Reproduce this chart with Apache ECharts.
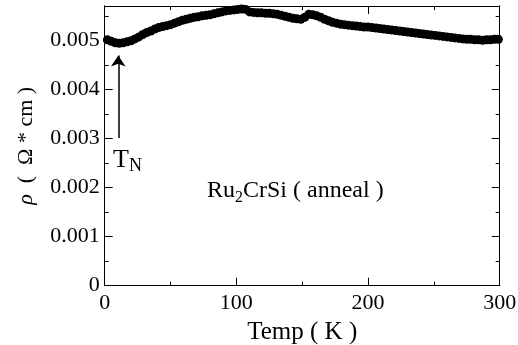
<!DOCTYPE html>
<html><head><meta charset="utf-8">
<script src="https://cdn.jsdelivr.net/npm/echarts@6/dist/echarts.min.js"></script>
<style>html,body{margin:0;padding:0;background:#fff}#c{width:518px;height:345px}</style>
</head><body><div id="c"></div>
<script>
const temps = [2,5,8,11,14,17,20,23,26,29,32,35,38,41,44,47,50,53,56,59,62,65,68,71,74,77,80,83,86,89,92,95,98,101,104,107,110,113,116,119,122,125,128,131,134,137,140,143,146,149,152,155,158,161,164,167,170,173,176,179,182,185,188,191,194,197,200,203,206,209,212,215,218,221,224,227,230,233,236,239,242,245,248,251,254,257,260,263,266,269,272,275,278,281,284,287,290,293,296,299];
const rho = [0.00501,0.00498,0.00495,0.00494,0.00495,0.00497,0.00499,0.00503,0.00507,0.00512,0.00516,0.00519,0.00523,0.00526,0.00528,0.00530,0.00532,0.00535,0.00538,0.00541,0.00543,0.00545,0.00547,0.00548,0.00550,0.00551,0.00552,0.00554,0.00556,0.00558,0.00560,0.00561,0.00562,0.00563,0.00564,0.00563,0.00558,0.00557,0.00556,0.00556,0.00555,0.00555,0.00554,0.00553,0.00551,0.00549,0.00547,0.00545,0.00544,0.00543,0.00547,0.00553,0.00552,0.00550,0.00547,0.00543,0.00540,0.00537,0.00535,0.00533,0.00532,0.00531,0.00530,0.00529,0.00528,0.00527,0.00527,0.00526,0.00525,0.00524,0.00523,0.00522,0.00521,0.00520,0.00519,0.00518,0.00517,0.00516,0.00515,0.00514,0.00513,0.00512,0.00511,0.00510,0.00509,0.00508,0.00507,0.00506,0.00505,0.00504,0.00503,0.00502,0.00502,0.00501,0.00501,0.00500,0.00501,0.00501,0.00502,0.00502];
const xTickLabels = [0,100,200,300];
const yTickLabels = ['0','0.001','0.002','0.003','0.004','0.005'];
const xName = 'Temp ( K )';
const arrowFrom = [10.3, 0.00301];
const arrowTo = [10.3, 0.00469];
const tnAnchor = [6.3, 0.00240];
const sampleAnchor = [77.7, 0.00177];

const FONT = 'Liberation Serif';
const data = temps.map((t,i)=>[t, rho[i]]);
const xMin=0, xMax=300, yMin=0, yMax=0.0057;

function xAx(pos, interval, len, labels){
  return {type:'value', position:pos, min:xMin, max:xMax, interval:interval,
    axisLine:{show:true, onZero:false, lineStyle:{color:'#000', width:1}},
    axisTick:{show:true, inside:true, length:len, lineStyle:{color:'#000', width:1}},
    axisLabel:{show:labels, color:'#000', fontFamily:FONT, fontSize:22, margin:7,
      formatter: v => xTickLabels.includes(v) ? String(v) : ''},
    splitLine:{show:false},
    name: labels ? xName : '', nameLocation:'middle', nameGap:33,
    nameTextStyle:{color:'#000', fontFamily:FONT, fontSize:25}};
}
function yAx(pos, interval, len, labels){
  return {type:'value', position:pos, min:yMin, max:yMax, interval:interval,
    axisLine:{show:true, onZero:false, lineStyle:{color:'#000', width:1}},
    axisTick:{show:true, inside:true, length:len, lineStyle:{color:'#000', width:1}},
    axisLabel:{show:labels, color:'#000', fontFamily:FONT, fontSize:22, margin:5, showMaxLabel:false,
      formatter: v => { const k = Math.round(v*1000); return (Math.abs(v*1000-k)<1e-6 && yTickLabels[k]!==undefined) ? yTickLabels[k] : ''; }},
    splitLine:{show:false},
    name: labels ? '{i|ρ}  (  Ω * cm )' : '', nameLocation:'middle', nameGap:67, nameRotate:90,
    nameTextStyle:{color:'#000', fontFamily:FONT, fontSize:22, rich:{i:{fontStyle:'italic', fontFamily:FONT, fontSize:22, color:'#000'}}}};
}
const chart = echarts.init(document.getElementById('c'), null, {renderer:'canvas'});
chart.setOption({
  animation:false,
  backgroundColor:'#fff',
  grid:{left:104.7, right:18.3, top:6, bottom:59.3, containLabel:false, outerBoundsMode:'none'},
  xAxis:[xAx('bottom',50,4,true), xAx('bottom',100,8,false), xAx('top',50,4,false), xAx('top',100,8,false)],
  yAxis:[yAx('left',0.0005,4,true), yAx('left',0.001,8,false), yAx('right',0.0005,4,false), yAx('right',0.001,8,false)],
  series:[{
    type:'line', data:data, xAxisIndex:0, yAxisIndex:0,
    symbol:'circle', symbolSize:9, showAllSymbol:true, clip:false,
    lineStyle:{color:'#000', width:5}, itemStyle:{color:'#000'},
    emphasis:{disabled:true},
    markLine:{silent:true, symbol:['none','arrow'], symbolSize:11, animation:false,
      label:{show:false}, lineStyle:{color:'#000', width:1.5, type:'solid'},
      emphasis:{disabled:true},
      data:[[{coord:arrowFrom},{coord:arrowTo}]]}
  }]
});
const tn = chart.convertToPixel({xAxisIndex:0, yAxisIndex:0}, tnAnchor);
const sa = chart.convertToPixel({xAxisIndex:0, yAxisIndex:0}, sampleAnchor);
chart.setOption({graphic:[
  {type:'text', x:tn[0], y:tn[1]-23, style:{text:'{t|T}{n|N}', verticalAlign:'top', align:'left',
    rich:{t:{fontFamily:FONT, fontSize:26, lineHeight:30, color:'#000'},
          n:{fontFamily:FONT, fontSize:18, lineHeight:18, verticalAlign:'bottom', color:'#000'}}}},
  {type:'text', x:sa[0], y:sa[1]-23, style:{text:'{a|Ru}{s|2}{a|CrSi ( anneal )}', verticalAlign:'top', align:'left',
    rich:{a:{fontFamily:FONT, fontSize:24, lineHeight:30, color:'#000'},
          s:{fontFamily:FONT, fontSize:16, lineHeight:16, verticalAlign:'bottom', color:'#000'}}}}
]});
</script></body></html>
